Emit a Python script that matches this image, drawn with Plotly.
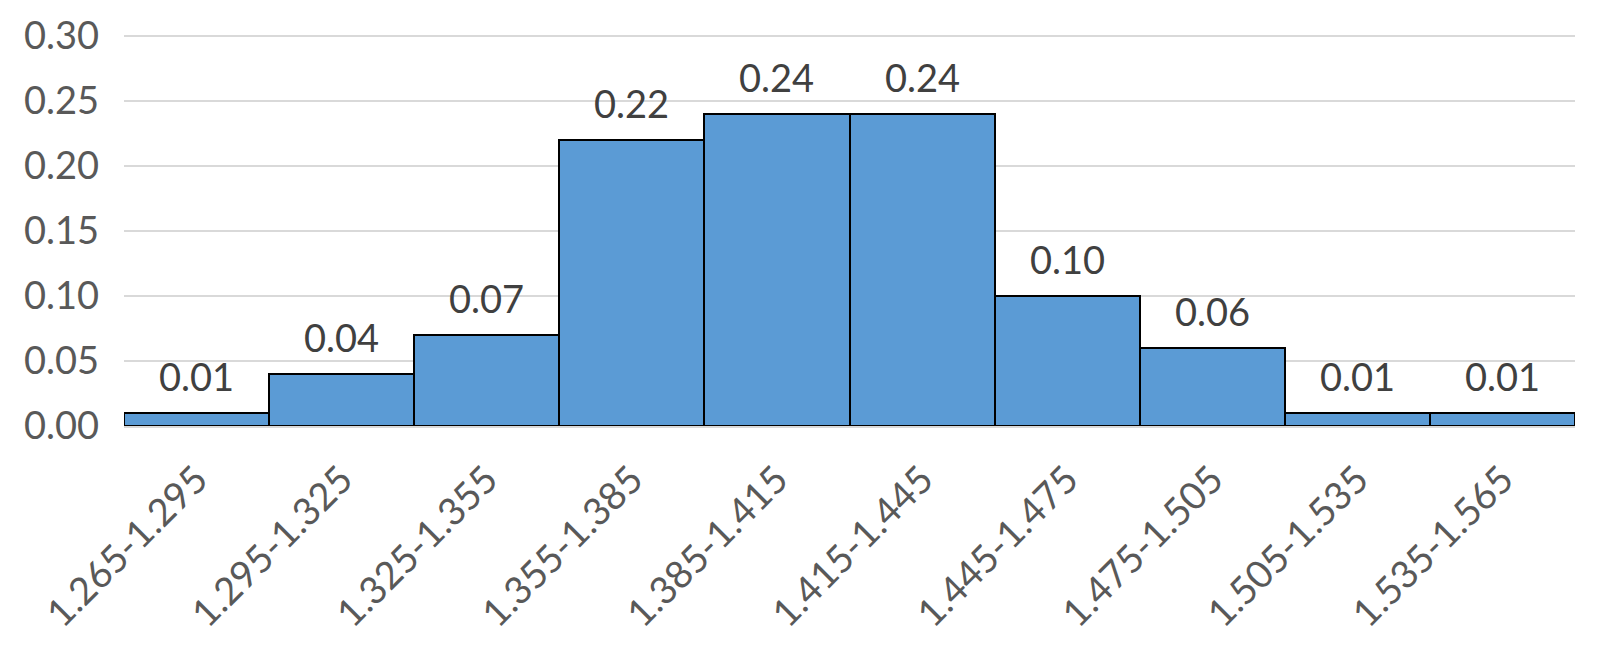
import plotly.graph_objects as go

categories = ["1.265-1.295", "1.295-1.325", "1.325-1.355", "1.355-1.385", "1.385-1.415",
              "1.415-1.445", "1.445-1.475", "1.475-1.505", "1.505-1.535", "1.535-1.565"]
values = [0.01, 0.04, 0.07, 0.22, 0.24, 0.24, 0.10, 0.06, 0.01, 0.01]
y_ticks = [0.0, 0.05, 0.10, 0.15, 0.20, 0.25, 0.30]

FONT = "Lato, 'Open Sans', sans-serif"
FS = 38

fig = go.Figure(go.Bar(
    x=categories, y=values,
    marker=dict(color="#5B9BD5", line=dict(color="#000000", width=2)),
    width=1,
    cliponaxis=False,
))

for c, v in zip(categories, values):
    fig.add_annotation(
        x=c, y=v, text=f"{v:.2f}", showarrow=False,
        yanchor="middle", yshift=37,
        font=dict(family=FONT, size=FS, color="#404040"),
    )

# page body has an 8px default margin, so the figure is sized to fit inside it
fig.update_layout(
    width=1591, height=655,
    margin=dict(l=116, r=24, t=27, b=237, autoexpand=False),
    plot_bgcolor="white", paper_bgcolor="white",
    bargap=0, showlegend=False,
    font=dict(family=FONT, color="#595959"),
)
fig.update_yaxes(
    range=[0, 0.3008], tickvals=y_ticks, ticktext=[f"{t:.2f}" for t in y_ticks],
    showgrid=True, gridcolor="#D9D9D9", gridwidth=1.5,
    zeroline=False, showline=False, ticks="",
    tickfont=dict(family=FONT, size=FS, color="#595959"),
    ticklabelstandoff=24,
)
fig.update_xaxes(
    tickangle=-45, showline=True, linecolor="#D9D9D9", linewidth=2,
    ticks="", tickfont=dict(family=FONT, size=FS, color="#595959"),
    ticklabelstandoff=14,
)

fig.write_html("out.html")
